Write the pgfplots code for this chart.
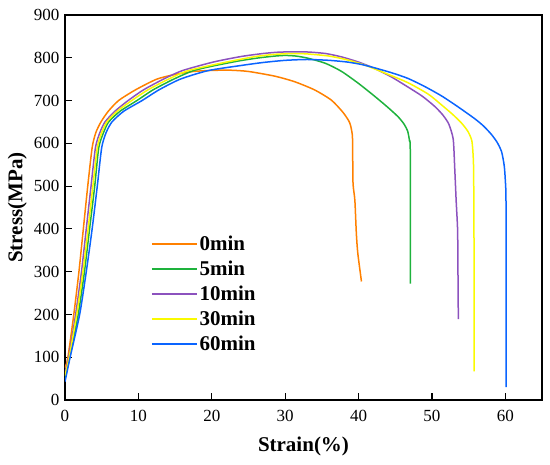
\documentclass[border=0pt]{standalone}
\usepackage{fontspec}
\setmainfont{Liberation Serif}
\usepackage{pgfplots}
\pgfplotsset{compat=1.18}
\definecolor{cOr}{RGB}{255,128,0}
\definecolor{cGr}{RGB}{30,178,60}
\definecolor{cPu}{RGB}{140,82,190}
\definecolor{cYe}{RGB}{250,250,0}
\definecolor{cBl}{RGB}{10,100,255}
\begin{document}
\begin{tikzpicture}
\useasboundingbox (-65pt,-65pt) rectangle (485pt,400pt);
\begin{axis}[
  scale only axis, width=477pt, height=385pt,
  xmin=0, xmax=65, ymin=0, ymax=900,
  xtick={0,10,...,60}, ytick={0,100,...,900},
  xtick pos=bottom, ytick pos=left,
  tick align=inside, major tick length=7pt,
  every tick/.style={black, line width=1.2pt},
  axis line style={black, line width=1.2pt},
  /pgf/number format/assume math mode=true,
  ticklabel style={font=\fontsize{17}{19}\selectfont},
  xticklabel style={yshift=-7pt},
  yticklabel style={xshift=-2pt},
  xlabel={Strain(\%)}, ylabel={Stress(MPa)},
  label style={font=\bfseries\fontsize{21}{24}\selectfont},
  xlabel style={at={(axis description cs:0.5,-0.12)}, anchor=center},
  ylabel style={at={(axis description cs:-0.1,0.5)}, anchor=center},
  legend style={draw=none, fill=none, at={(axis description cs:0.18,0.432)}, anchor=north west,
    font=\bfseries\fontsize{21}{24}\selectfont, inner sep=0pt, row sep=5pt, cells={anchor=west}},
  legend image code/.code={\draw[#1, line width=1.5pt, sharp plot] (0pt,0pt) -- (45pt,0pt);},
  every axis plot/.append style={line width=1.5pt, smooth, tension=0.4},
]
\addplot[cOr] coordinates {
(0,75)(0.4,100)(1.2,200)(1.9,300)(2.5,400)(3.1,500)(3.7,590)(4.2,625)(4.9,650)(5.9,675)(7.3,700)(9.6,725)(12.5,750)(15,761)(17.5,768)(20,770.5)(22.5,771)(25,768)(28.6,757)(31.3,744)(34,725)(36.3,701)(37.9,672)(38.8,648)(39.15,620)(39.2,584)(39.25,506)(39.5,467)(39.7,390)(39.9,343)(40.4,277)};
\addlegendentry{0min}
\addplot[cGr] coordinates {
(0,50)(0.63,100)(1.8,200)(2.65,300)(3.35,400)(4.05,500)(4.6,590)(5.25,625)(5.95,650)(7.5,675)(9.8,700)(12,725)(14.8,750)(17.5,770)(20.5,782)(23.8,793)(26.5,800)(28.6,804)(30,805.5)(31.5,804)(33.1,799)(35.5,787)(37.7,768)(40,740)(42.2,710)(44,684)(45.4,662)(46.2,645)(46.7,628)(46.95,605)(47.05,580)(47.05,272)};
\addlegendentry{5min}
\addplot[cPu] coordinates {
(0,64)(0.5,100)(1.45,200)(2.25,300)(2.9,400)(3.55,500)(4.15,590)(4.75,625)(5.45,650)(6.8,675)(8.6,700)(10.7,725)(13.4,750)(16,770)(20.2,790)(24,803)(27,810)(29,813)(31,814)(33.1,813.5)(35.5,810)(37.7,802)(40,790)(42.2,775)(44.5,755)(46.7,732)(48.7,710)(50.4,686)(51.5,666)(52.3,645)(52.9,610)(53.1,545)(53.3,467)(53.5,397)(53.55,300)(53.6,189)};
\addlegendentry{10min}
\addplot[cYe] coordinates {
(0,57)(0.57,100)(1.6,200)(2.45,300)(3.15,400)(3.8,500)(4.4,590)(5.0,625)(5.7,650)(7.1,675)(9.1,700)(11.3,725)(14.1,750)(16.8,770)(22,790)(26,803)(28.6,808)(31,810)(33,809)(36,804)(38.5,795)(41,782)(43.5,765)(46.7,742)(49.5,715)(51.3,690)(52.8,668)(54.0,648)(54.9,628)(55.45,605)(55.65,560)(55.7,500)(55.75,300)(55.75,67)};
\addlegendentry{30min}
\addplot[cBl] coordinates {
(0,43)(0.7,100)(2.0,200)(2.9,300)(3.7,400)(4.4,500)(5.0,590)(5.6,625)(6.4,650)(8.0,675)(10.5,700)(12.8,725)(15.7,750)(19.5,770)(24,782)(27,789)(30,794)(33,796)(36,794)(38.5,790)(40.5,784)(42.5,775)(44.5,765)(46.7,752)(49,733)(51.3,711)(53.5,686)(55.8,658)(57,641)(58.1,621)(58.9,602)(59.5,580)(59.85,548)(60.0,514)(60.1,450)(60.1,30)};
\addlegendentry{60min}
\end{axis}
\end{tikzpicture}
\end{document}
